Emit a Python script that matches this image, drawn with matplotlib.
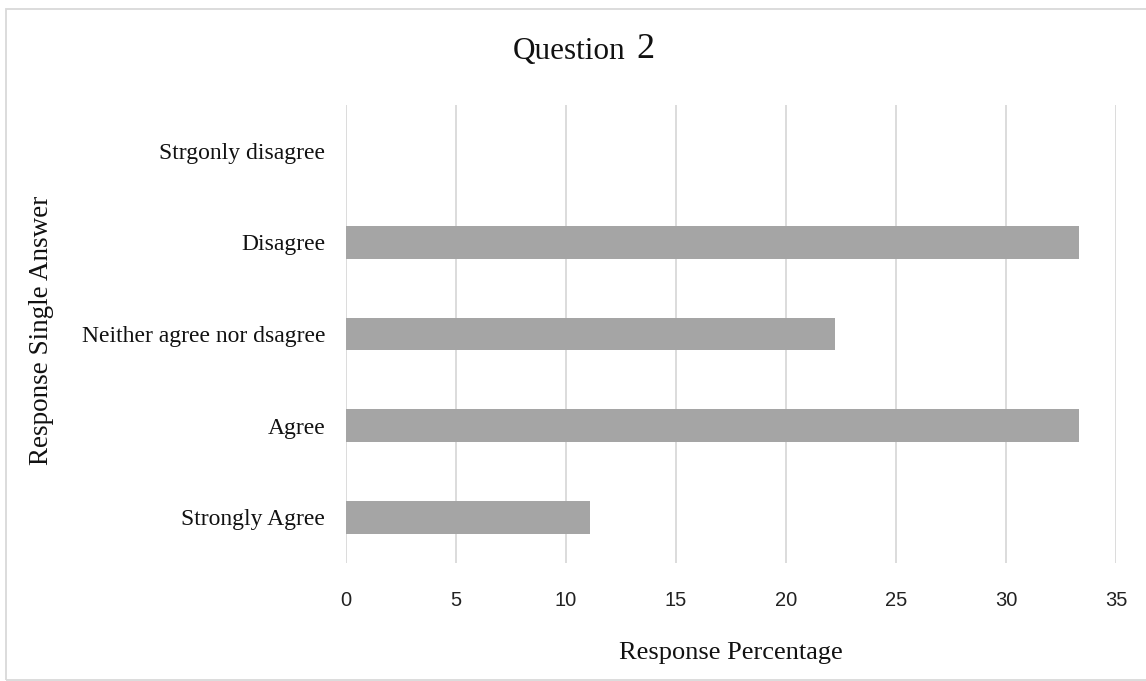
import matplotlib
matplotlib.use("Agg")
import matplotlib.pyplot as plt
from matplotlib.patches import Rectangle

categories = ["Strongly Agree", "Agree", "Neither agree nor dsagree", "Disagree", "Strgonly disagree"]
values = [11.11, 33.33, 22.22, 33.33, 0.0]
xticks = [0, 5, 10, 15, 20, 25, 30, 35]

W, H = 1146, 681
fig = plt.figure(figsize=(W / 100, H / 100), dpi=100)
ax = fig.add_axes([346 / W, 1 - 563 / H, (1116 - 346) / W, (563 - 105) / H])

ypos = list(range(len(categories)))
ax.barh(ypos, values, height=0.36, color="#a5a5a5", zorder=3)
ax.set_ylim(-0.5, len(categories) - 0.5)
ax.set_xlim(0, 35)
ax.set_xticks(xticks)
ax.set_xticklabels([str(t) for t in xticks], family="Liberation Sans", fontsize=14.5, color="#222222")
ax.set_yticks(ypos)
ax.set_yticklabels(categories, family="Liberation Serif", fontsize=17, color="#111111")
ax.tick_params(axis="x", length=0, pad=20)
ax.tick_params(axis="y", length=0, pad=15)
ax.grid(axis="x", color="#d9d9d9", linewidth=1.3, zorder=0)
for s in ax.spines.values():
    s.set_visible(False)

fig.text(626 / W, 1 - 51 / H, "Question", family="Liberation Serif", fontsize=22.5,
         ha="right", va="center", color="#111111")
fig.text(636 / W, 1 - 50 / H, "2", family="Liberation Serif", fontsize=26,
         ha="left", va="center", color="#111111")
fig.text(731 / W, 1 - 653 / H, "Response Percentage", family="Liberation Serif", fontsize=19,
         ha="center", va="center", color="#111111")
fig.text(42 / W, 1 - 330 / H, "Response Single Answer", family="Liberation Serif", fontsize=19.5,
         ha="center", va="center", rotation=90, color="#111111")

fig.add_artist(Rectangle((5.5 / W, 1 - 680 / H), (W + 10) / W, (680 - 9) / H,
                         transform=fig.transFigure, fill=False, edgecolor="#d9d9d9", linewidth=1.3))

fig.savefig("out.png", dpi=100)
